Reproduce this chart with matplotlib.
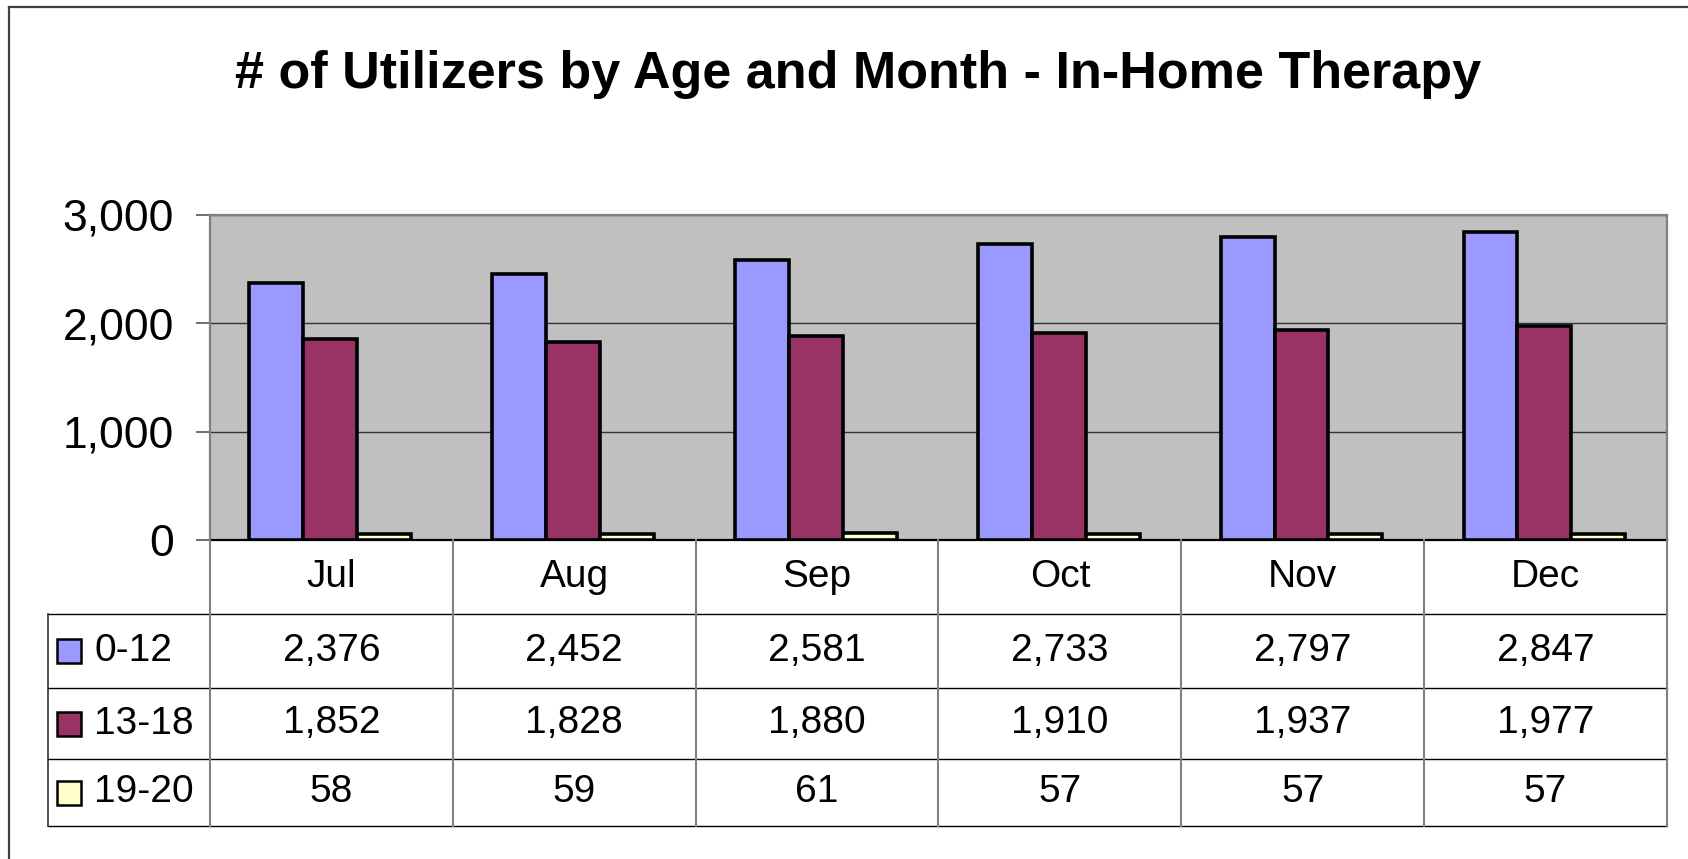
import matplotlib
matplotlib.use('Agg')
import matplotlib.pyplot as plt
from matplotlib.patches import Rectangle
from matplotlib.lines import Line2D
import matplotlib.transforms as mtransforms
import numpy as np

plt.rcParams['font.family'] = ['Liberation Sans', 'DejaVu Sans']

# ---- data ----
title = '# of Utilizers by Age and Month - In-Home Therapy'
months = ['Jul', 'Aug', 'Sep', 'Oct', 'Nov', 'Dec']
series_labels = ['0-12', '13-18', '19-20']
age_0_12 = [2376, 2452, 2581, 2733, 2797, 2847]
age_13_18 = [1852, 1828, 1880, 1910, 1937, 1977]
age_19_20 = [58, 59, 61, 57, 57, 57]
colors = ['#9999FF', '#993366', '#FFFFCC']
yticks = [0, 1000, 2000, 3000]

series = [age_0_12, age_13_18, age_19_20]

W, H = 1688, 859
fig = plt.figure(figsize=(W / 100, H / 100), dpi=100)


def fx(px):
    return px / W


def fy(py):
    return 1 - py / H


# ---- plot area ----
ax = fig.add_axes([fx(210), fy(540), fx(1667) - fx(210), fy(215) - fy(540)])
ax.set_facecolor('#C0C0C0')
x = np.arange(len(months))
bw = 0.222
for k, (vals, c) in enumerate(zip(series, colors)):
    ax.bar(x + (k - 1) * bw - 0.005, vals, bw, color=c, edgecolor='black',
           linewidth=2.6, zorder=3)
ax.set_xlim(-0.5, len(months) - 0.5)
ax.set_ylim(0, 3000)
ax.set_yticks(yticks)
ax.set_yticklabels([f'{v:,}' for v in yticks])
ax.yaxis.grid(True, color='#333333', linewidth=1.0)
ax.set_axisbelow(True)
ax.set_xticks([])
ax.tick_params(axis='y', length=10, width=1.2, color='#555555', pad=16,
               labelsize=32)
for s in ['top', 'right', 'left']:
    ax.spines[s].set_color('#808080')
    ax.spines[s].set_linewidth(1.6)
ax.spines['bottom'].set_color('black')
ax.spines['bottom'].set_linewidth(1.6)

# ---- data table ----
trans = mtransforms.blended_transform_factory(ax.transData, fig.transFigure)
row_edges = [540, 614, 688, 759, 826]
left_px, right_px = 48, 1667

for yp in row_edges[1:]:
    fig.add_artist(Line2D([fx(left_px), fx(right_px)], [fy(yp), fy(yp)],
                          color='black', linewidth=1.0,
                          transform=fig.transFigure))
for i in range(len(months) + 1):
    xi = i - 0.5
    fig.add_artist(Line2D([xi, xi], [fy(540), fy(826)], color='#808080',
                          linewidth=1.5, transform=trans))
fig.add_artist(Line2D([fx(left_px), fx(left_px)], [fy(614), fy(826)],
                      color='#333333', linewidth=1.2,
                      transform=fig.transFigure))

hdr_y = fy((row_edges[0] + row_edges[1]) / 2)
for i, m in enumerate(months):
    fig.text(i, hdr_y, m, transform=trans, ha='center', va='center',
             fontsize=28)

for r, (lab, vals, c) in enumerate(zip(series_labels, series, colors)):
    yc = (row_edges[r + 1] + row_edges[r + 2]) / 2
    for i, v in enumerate(vals):
        fig.text(i, fy(yc), f'{v:,}', transform=trans, ha='center',
                 va='center', fontsize=28)
    fig.add_artist(Rectangle((fx(57), fy(yc + 12)), fx(24), 24 / H,
                             facecolor=c, edgecolor='black', linewidth=1.8,
                             transform=fig.transFigure))
    fig.text(fx(94), fy(yc), lab, ha='left', va='center', fontsize=28)

# ---- title ----
fig.text(fx(858), fy(88), title, ha='center', va='baseline', fontsize=37.5,
         fontweight='bold')

# ---- outer border (left and top) ----
fig.add_artist(Line2D([fx(9), fx(9)], [0, fy(6.5)], color='#404040',
                      linewidth=1.6, transform=fig.transFigure))
fig.add_artist(Line2D([fx(9), 1], [fy(6.5), fy(6.5)], color='#404040',
                      linewidth=1.6, transform=fig.transFigure))

fig.savefig('out.png', dpi=100, facecolor='white')
